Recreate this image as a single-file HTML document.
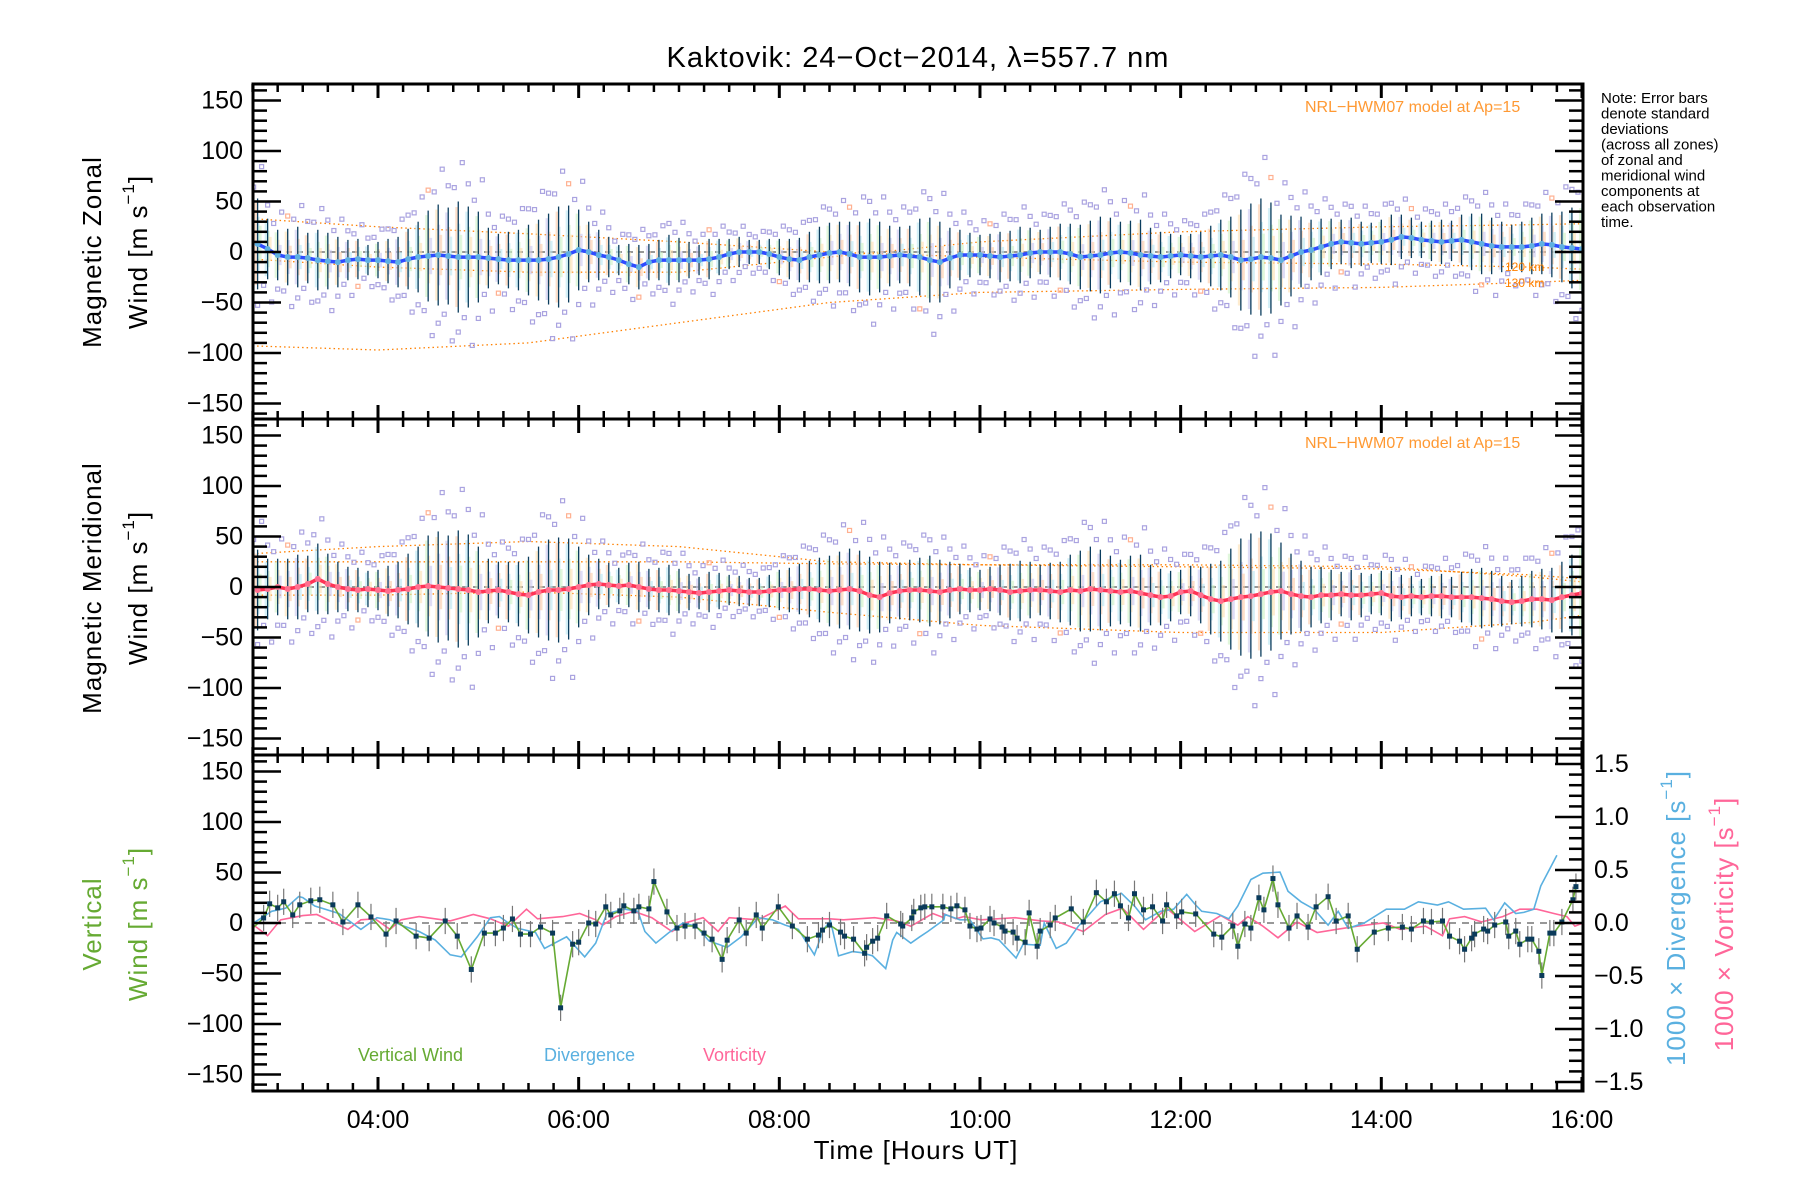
<!DOCTYPE html>
<html><head><meta charset="utf-8"><title>Kaktovik winds</title>
<style>
html,body{margin:0;padding:0;background:#fff;}
svg{display:block;font-family:"Liberation Sans",sans-serif;}
</style></head>
<body>
<svg id="chart" width="1800" height="1200" viewBox="0 0 1800 1200" xmlns="http://www.w3.org/2000/svg">
<defs>
<clipPath id="c1"><rect x="253" y="84" width="1330" height="335"/></clipPath>
<clipPath id="c2"><rect x="253" y="419" width="1330" height="336"/></clipPath>
<clipPath id="c3"><rect x="253" y="755" width="1330" height="336"/></clipPath>
</defs>
<text x="918" y="58" text-anchor="middle" dominant-baseline="central" font-size="29" letter-spacing="1">Kaktovik: 24−Oct−2014, λ=557.7 nm</text>
<g font-size="15" fill="#000">
<text x="1601" y="103">Note: Error bars</text>
<text x="1601" y="118.5">denote standard</text>
<text x="1601" y="134">deviations</text>
<text x="1601" y="149.5">(across all zones)</text>
<text x="1601" y="165">of zonal and</text>
<text x="1601" y="180.5">meridional wind</text>
<text x="1601" y="196">components at</text>
<text x="1601" y="211.5">each observation</text>
<text x="1601" y="227">time.</text>
</g>
<g font-size="26">
<text transform="translate(92,252) rotate(-90)" text-anchor="middle" dominant-baseline="central" letter-spacing="1">Magnetic Zonal</text>
<text transform="translate(138,252) rotate(-90)" text-anchor="middle" dominant-baseline="central" letter-spacing="1">Wind [m s<tspan dy="-10" font-size="17">−1</tspan><tspan dy="10">]</tspan></text>
</g>
<g font-size="26">
<text transform="translate(92,588) rotate(-90)" text-anchor="middle" dominant-baseline="central" letter-spacing="1">Magnetic Meridional</text>
<text transform="translate(138,588) rotate(-90)" text-anchor="middle" dominant-baseline="central" letter-spacing="1">Wind [m s<tspan dy="-10" font-size="17">−1</tspan><tspan dy="10">]</tspan></text>
</g>
<g font-size="26" fill="#66aa33">
<text transform="translate(92,924) rotate(-90)" text-anchor="middle" dominant-baseline="central" letter-spacing="1">Vertical</text>
<text transform="translate(138,924) rotate(-90)" text-anchor="middle" dominant-baseline="central" letter-spacing="1">Wind [m s<tspan dy="-10" font-size="17">−1</tspan><tspan dy="10">]</tspan></text>
</g>
<text transform="translate(1676,918) rotate(-90)" text-anchor="middle" dominant-baseline="central" font-size="26" fill="#5ab0e0" letter-spacing="1">1000 × Divergence [s<tspan dy="-10" font-size="17">−1</tspan><tspan dy="10">]</tspan></text>
<text transform="translate(1724,924) rotate(-90)" text-anchor="middle" dominant-baseline="central" font-size="26" fill="#ff6699" letter-spacing="1">1000 × Vorticity [s<tspan dy="-10" font-size="17">−1</tspan><tspan dy="10">]</tspan></text>
<text x="916" y="1150" text-anchor="middle" dominant-baseline="central" font-size="26" letter-spacing="1">Time [Hours UT]</text>
<text x="1305" y="112" font-size="16" fill="#ff9933">NRL−HWM07 model at Ap=15</text>
<text x="1305" y="448" font-size="16" fill="#ff9933">NRL−HWM07 model at Ap=15</text>
<text x="358" y="1055" font-size="18" fill="#66aa33" dominant-baseline="central">Vertical Wind</text>
<text x="544" y="1055" font-size="18" fill="#5ab0e0" dominant-baseline="central">Divergence</text>
<text x="703" y="1055" font-size="18" fill="#ff6699" dominant-baseline="central">Vorticity</text>
<g id="p1" clip-path="url(#c1)"></g>
<g id="p2" clip-path="url(#c2)"></g>
<g id="p3" clip-path="url(#c3)"></g>
<g id="axes"></g>
</svg>
<script>
// ---------- data ----------
const obsStart = 2.8;      // first observation time (h UT)
const obsStep = 0.1;       // observation cadence (h)
const zonalMean = [8,3,-3,-5,-5,-6,-8,-9,-10,-8,
 -7,-8,-8,-9,-10,-7,-5,-4,-3,-4,
 -5,-5,-5,-6,-7,-8,-8,-8,-8,-7,
 -5,-2,2,0,-3,-5,-8,-12,-15,-10,
 -8,-8,-8,-8,-8,-7,-5,-2,0,0,
 0,-2,-5,-7,-8,-5,-3,-1,0,-2,
 -5,-5,-5,-4,-3,-4,-5,-8,-10,-6,
 -3,-3,-3,-4,-5,-4,-3,-1,0,0,
 0,-2,-5,-4,-3,-1,0,-1,-3,-4,
 -5,-4,-3,-4,-5,-4,-3,-5,-8,-7,
 -5,-6,-8,-4,0,2,5,8,10,9,
 8,9,10,12,15,14,12,11,10,11,
 12,10,8,6,5,5,5,6,8,7,
 5,4,3];
const zonalStd = [45,30,25,28,30,25,30,28,25,20,
 20,15,18,22,25,30,35,45,50,48,
 55,50,45,30,25,28,30,35,40,45,
 50,48,40,30,25,20,15,20,22,18,
 20,25,22,18,15,20,18,15,15,12,
 12,15,18,20,22,25,28,30,30,32,
 35,38,35,30,28,30,38,42,40,30,
 25,22,20,22,25,25,28,25,22,25,
 28,30,32,35,38,35,30,32,35,28,
 25,22,20,22,25,30,35,40,50,55,
 58,55,45,40,35,30,28,25,22,25,
 22,20,22,25,22,20,18,20,22,20,
 25,28,30,28,25,22,25,28,30,32,
 35,40,45];
const meridMean = [-3,-2,0,-2,0,3,8,3,0,-2,
 -3,-2,-3,-4,-3,-2,0,1,0,-1,
 -2,-3,-5,-4,-3,-5,-7,-8,-5,-3,
 -3,-2,0,2,3,2,1,2,0,-2,
 -3,-3,-4,-5,-6,-5,-4,-3,-4,-5,
 -5,-4,-3,-3,-2,-2,-3,-4,-3,-2,
 -4,-8,-10,-6,-4,-3,-3,-4,-5,-3,
 -2,-3,-3,-2,-3,-5,-4,-3,-3,-4,
 -5,-3,-4,-2,-3,-4,-5,-4,-6,-8,
 -10,-9,-5,-4,-8,-12,-14,-12,-10,-9,
 -7,-5,-4,-7,-9,-10,-8,-8,-7,-8,
 -8,-7,-6,-9,-10,-9,-10,-9,-9,-10,
 -10,-10,-11,-12,-14,-15,-14,-12,-12,-13,
 -10,-8,-6];
const meridStd = [40,30,28,30,32,28,35,30,25,22,
 22,18,20,25,28,35,40,50,55,52,
 58,55,45,32,28,30,32,38,45,50,
 52,50,40,30,25,22,18,22,25,20,
 22,25,22,18,16,20,18,15,15,14,
 14,16,20,22,25,28,32,35,38,40,
 40,38,35,30,28,30,32,35,32,28,
 25,22,20,22,25,28,30,28,25,28,
 30,35,40,42,40,35,32,35,38,30,
 28,25,22,25,28,35,40,50,58,62,
 62,58,48,40,35,30,28,25,22,25,
 22,20,22,25,22,20,18,20,22,20,
 25,28,30,28,25,22,25,28,30,32,
 35,40,50];
const modelTimes = [2.75,4,5.5,7,8.5,10,12,14,15.5,16.01];
const zonalModelA = [33,25,18,10,0,-5,-10,-12,-15,-17];
const zonalModelB = [-7,-15,-20,-20,-5,10,20,25,27,28];
const zonalModelC = [-93,-97,-90,-70,-50,-40,-37,-35,-30,-28];
const meridModelA = [33,40,45,40,25,22,22,20,10,5];
const meridModelB = [25,25,25,25,23,22,20,18,12,8];
const meridModelC = [-8,-8,-5,-10,-25,-38,-45,-45,-35,-28];
const vwTimes = [2.73,2.86,2.92,3.0,3.06,3.15,3.22,3.33,3.42,3.55,3.65,3.8,3.93,4.08,4.18,4.38,4.51,4.67,4.79,4.93,5.06,5.17,5.25,5.34,5.42,5.52,5.62,5.74,5.82,5.94,6.0,6.1,6.17,6.27,6.32,6.41,6.45,6.55,6.6,6.7,6.75,6.88,6.98,7.06,7.16,7.25,7.33,7.43,7.48,7.6,7.67,7.77,7.83,7.99,8.13,8.28,8.39,8.43,8.5,8.61,8.65,8.74,8.85,8.87,8.93,8.98,9.07,9.21,9.23,9.32,9.34,9.41,9.45,9.52,
 9.63,9.71,9.77,9.85,9.9,9.97,10.01,10.1,10.14,10.22,10.25,10.33,10.37,10.45,10.49,10.57,10.6,10.7,10.75,10.91,11.03,11.16,11.26,11.34,11.4,11.48,11.54,11.63,11.72,11.82,11.86,11.96,12.01,12.15,12.33,12.41,12.52,12.57,12.64,12.7,12.78,12.83,12.92,12.97,13.08,13.16,13.27,13.35,13.47,13.55,13.67,13.76,13.93,14.07,14.21,14.3,14.42,14.5,14.61,14.68,14.78,14.83,14.9,14.93,15.02,15.06,15.13,15.24,15.27,15.34,15.38,15.46,15.5,15.57,15.6,15.68,15.72,15.8,15.91,15.94];
const vwValues = [-7,5,19,15,21,8,18,22,23,18,1,18,6,-11,2,-13,-15,2,-13,-46,-10,-10,-5,4,-11,-11,-4,-10,-84,-21,-19,0,-1,16,8,12,17,12,16,14,41,11,-5,-3,-3,-10,-16,-36,-17,3,-10,8,-5,16,-3,-16,-12,-7,-2,-9,-13,-16,-30,-24,-18,-15,7,-1,-3,5,11,15,16,16,
 16,14,17,13,-3,-6,-5,4,0,-4,-8,-9,-15,-19,10,-23,-8,-2,5,14,1,30,21,29,17,5,29,13,16,2,18,7,11,9,-11,-14,-3,-23,-1,-5,25,13,44,18,-5,7,-4,16,26,2,7,-26,-9,-5,-4,-6,2,1,2,-13,-18,-26,-15,-11,-6,-8,-2,1,-13,-8,-21,-16,-16,-28,-52,-10,-10,1,23,36];
const vwErr = 13;
const divTimes = [2.76,2.94,3.08,3.21,3.25,3.37,3.61,3.83,3.99,4.12,4.23,4.41,4.57,4.72,4.83,4.99,5.12,5.21,5.3,5.39,5.57,5.66,5.88,6.06,6.17,6.28,6.46,6.59,6.66,6.77,6.9,7.04,7.17,7.3,7.48,7.62,7.79,7.93,8.06,8.19,8.35,8.44,8.51,8.59,8.73,8.82,8.93,9.06,9.13,9.17,9.31,9.4,9.48,9.64,
 9.65,9.8,9.9,10.03,10.11,10.19,10.36,10.43,10.6,10.64,10.76,10.86,10.98,11.07,11.2,11.41,11.54,11.65,11.8,11.93,12.06,12.15,12.21,12.36,12.48,12.57,12.7,12.82,12.99,13.07,13.2,13.33,13.47,13.57,13.67,13.83,14.05,14.23,14.37,14.56,14.67,14.82,15.04,15.12,15.23,15.34,15.42,15.52,15.59,15.75,15.88,16.01];
const divValues = [0,0.11,0.14,0.25,0.24,0.16,0.09,-0.06,0.05,0.03,-0.02,-0.08,-0.16,-0.3,-0.32,-0.13,0.05,0.06,0,-0.05,-0.09,-0.24,-0.13,-0.32,-0.19,0.09,0.13,0.11,-0.08,-0.19,-0.09,0,-0.03,-0.17,-0.23,-0.13,0.05,0.03,-0.02,-0.06,-0.3,-0.06,0.02,-0.31,-0.27,-0.28,-0.31,-0.43,-0.16,-0.09,-0.19,-0.13,-0.08,0.03,
 0.08,0.03,0.03,-0.15,-0.14,-0.16,-0.33,-0.2,-0.21,0,-0.24,-0.19,-0.03,0.06,0.2,0.28,0.16,0.03,0.11,0.13,0.27,0.17,0.11,0.09,0.04,0.16,0.41,0.47,0.48,0.3,0.2,0.13,-0.02,0.11,-0.05,0,0.13,0.13,0.2,0.17,0.2,0.13,0.14,0.03,0.19,0.09,0.1,0.13,0.35,0.64];
const vortTimes = [2.76,2.9,3.03,3.25,3.39,3.7,3.83,3.97,4.12,4.23,4.41,4.72,4.95,5.12,5.3,5.48,5.59,5.84,6.01,6.17,6.24,6.37,6.55,6.73,6.93,7.06,7.24,7.39,7.5,7.79,8.06,8.19,8.5,8.64,8.95,9.17,9.31,9.53,9.64,
 9.63,9.76,9.84,10.01,10.35,10.61,10.78,11.03,11.25,11.42,11.63,11.86,12.14,12.4,12.57,12.67,12.82,12.97,13.16,13.36,13.55,13.76,14.02,14.19,14.44,14.61,14.68,14.83,15.0,15.21,15.38,15.55,15.72,15.85,15.93,16.01];
const vortValues = [-0.02,-0.12,0.03,0.07,0.08,-0.06,0.03,0.04,-0.06,0.03,0.06,0.02,0.08,0.04,-0.03,0.13,0.04,0.06,0.09,0.03,-0.02,0.06,0.11,0.05,-0.08,0,0.05,-0.08,0.05,0.03,0.16,0.04,0.04,0.03,0.05,0.02,-0.03,0.09,0.05,
 0.09,0.04,0.06,0.03,0.05,0.02,0.01,-0.08,0.08,0.14,-0.06,0.14,-0.08,0.07,-0.02,0.06,-0.03,-0.14,0.01,-0.09,-0.06,-0.03,0,-0.06,-0.03,-0.12,0.04,0.06,0.01,0.06,0.13,0.13,0.09,0.06,-0.03,0];
const hourTickLabels = ["04:00","06:00","08:00","10:00","12:00","14:00","16:00"];
const hourTickValues = [4,6,8,10,12,14,16];
const windTickValues = [150,100,50,0,-50,-100,-150];
const ratioTickValues = [1.5,1.0,0.5,0.0,-0.5,-1.0,-1.5];

// ---------- axes functions ----------
const NS = "http://www.w3.org/2000/svg";
const X0 = 253, X1 = 1583;
const panelTop = [84, 419, 755];
const panelBot = [419, 755, 1091];
const panelZero = [252, 587, 923];
function xs(t){ return 378 + (t - 4) * 100.33; }
function ys(p, v){ return panelZero[p] - v * 1.01; }
function yr(v){ return 923 - v * 106; }
function mk(tag, parent, attrs){
  const e = document.createElementNS(NS, tag);
  for (const k in attrs) e.setAttribute(k, attrs[k]);
  parent.appendChild(e);
  return e;
}
function fmt(v){ return (v < 0 ? "−" : "") + Math.abs(v); }
const obsTimes = zonalMean.map((_, i) => obsStart + i * obsStep);

// ---------- wind panels ----------
const lightCols = ["#fcc9a6", "#b9e6f2", "#cdf2c4", "#fde0b0", "#c9c6f0"];
function windPanel(p, g, mean, std, models, lineCol, dotCol, nameBase){
  const z = mk("line", g, {x1:X0, x2:X1, y1:ys(p,0), y2:ys(p,0), stroke:"#777", "stroke-width":1.5, "stroke-dasharray":"6,5"});
  
  
  models.forEach((m, k) => {
    const pts = modelTimes.map((t, i) => xs(t).toFixed(1) + "," + ys(p, m[i]).toFixed(1)).join(" ");
    const pl = mk("polyline", g, {points:pts, fill:"none", stroke:"#ff8000", "stroke-width":1.3, "stroke-dasharray":"1.5,3"});
    
    
  });
  mean.forEach((v, i) => {
    const x = xs(obsTimes[i]);
    for (let k = 0; k < 3; k++){
      const f = [0.9, 0.6, 0.4][k];
      const r = mk("rect", g, {x:x - 3 + k * 2, width:3, y:ys(p, v + std[i] * f), height:std[i] * f * 2 * 1.01, fill:lightCols[(i + k) % 5], opacity:0.6});
      
      
    }
  });
  mean.forEach((v, i) => {
    const mults = (i % 2 === 0) ? [1.25, -1.35, 1.7] : [-1.2, 1.45, -1.75];
    mults.forEach((m, k) => {
      const col = (k === 1 && i % 7 === 3) ? "#ffb090" : "#aaa3e0";
      const s = mk("rect", g, {x:xs(obsTimes[i]) - 2 + (k - 1) * 4, y:ys(p, v + std[i] * m) - 2, width:4, height:4, fill:"none", stroke:col, "stroke-width":1.2});
      
      
    });
  });
  mean.forEach((v, i) => {
    const x = xs(obsTimes[i]);
    const e = mk("line", g, {x1:x, x2:x, y1:ys(p, v + std[i]), y2:ys(p, v - std[i]), stroke:"#0b3d5e", "stroke-width":1.3});
    
    
  });
  const pts = mean.map((v, i) => xs(obsTimes[i]).toFixed(1) + "," + ys(p, v).toFixed(1)).join(" ");
  const ml = mk("polyline", g, {points:pts, fill:"none", stroke:lineCol, "stroke-width":3.5});
  
  
  mean.forEach((v, i) => {
    const c = mk("circle", g, {cx:xs(obsTimes[i]), cy:ys(p, v), r:3, fill:dotCol});
    
    
  });
}
windPanel(0, document.getElementById("p1"), zonalMean, zonalStd, [zonalModelA, zonalModelB, zonalModelC], "#2f4bff", "#5fb0e0", "zonal");
windPanel(1, document.getElementById("p2"), meridMean, meridStd, [meridModelA, meridModelB, meridModelC], "#ff3355", "#ff6f8f", "meridional");
const p1 = document.getElementById("p1");
const l120 = mk("text", p1, {x:1505, y:271, "font-size":12, fill:"#ff8000"});
l120.textContent = "120 km";


const l130 = mk("text", p1, {x:1505, y:287, "font-size":12, fill:"#ff8000"});
l130.textContent = "130 km";



// ---------- vertical panel ----------
const g3 = document.getElementById("p3");
const z3 = mk("line", g3, {x1:X0, x2:X1, y1:923, y2:923, stroke:"#777", "stroke-width":1.5, "stroke-dasharray":"7,6"});


const vortLine = mk("polyline", g3, {points:vortTimes.map((t, i) => xs(t).toFixed(1) + "," + yr(vortValues[i]).toFixed(1)).join(" "), fill:"none", stroke:"#ff6699", "stroke-width":1.6});


const divLine = mk("polyline", g3, {points:divTimes.map((t, i) => xs(t).toFixed(1) + "," + yr(divValues[i]).toFixed(1)).join(" "), fill:"none", stroke:"#5ab0e0", "stroke-width":1.6});


vwTimes.forEach((t, i) => {
  const e = mk("line", g3, {x1:xs(t), x2:xs(t), y1:ys(2, vwValues[i] + vwErr), y2:ys(2, vwValues[i] - vwErr), stroke:"#777", "stroke-width":1.2});
  
  
});
const vwLine = mk("polyline", g3, {points:vwTimes.map((t, i) => xs(t).toFixed(1) + "," + ys(2, vwValues[i]).toFixed(1)).join(" "), fill:"none", stroke:"#66aa33", "stroke-width":1.6});


vwTimes.forEach((t, i) => {
  const s = mk("rect", g3, {x:xs(t) - 2.5, y:ys(2, vwValues[i]) - 2.5, width:5, height:5, fill:"#0a3a5a"});
  
  
});

// ---------- axes ----------
const ax = document.getElementById("axes");
for (let p = 0; p < 3; p++){
  const fr = mk("rect", ax, {x:X0, y:panelTop[p], width:X1 - X0, height:panelBot[p] - panelTop[p], fill:"none", stroke:"#000", "stroke-width":3});
  
  
  for (let q = 11; q <= 64; q++){
    const t = q * 0.25, x = xs(t);
    const major = (q % 8 === 0);
    const len = major ? 14 : 8;
    const tk1 = mk("line", ax, {x1:x, x2:x, y1:panelTop[p], y2:panelTop[p] + len, stroke:"#000", "stroke-width":major ? 3 : 2.5});
    
    
    const tk2 = mk("line", ax, {x1:x, x2:x, y1:panelBot[p], y2:panelBot[p] - len, stroke:"#000", "stroke-width":major ? 3 : 2.5});
    
    
  }
  for (let v = -160; v <= 160; v += 10){
    const y = ys(p, v);
    if (y < panelTop[p] + 1 || y > panelBot[p] - 1) continue;
    const major = (v % 50 === 0);
    const len = major ? 28 : 14;
    const tl = mk("line", ax, {x1:X0, x2:X0 + len, y1:y, y2:y, stroke:"#000", "stroke-width":2.5});
    
    
    if (p < 2){
      const tr = mk("line", ax, {x1:X1, x2:X1 - len, y1:y, y2:y, stroke:"#000", "stroke-width":2.5});
      
      
    }
  }
  windTickValues.forEach(v => {
    const lb = mk("text", ax, {x:243, y:ys(p, v), "text-anchor":"end", "dominant-baseline":"central", "font-size":25});
    lb.textContent = fmt(v);
    
    
  });
}
for (let k = -16; k <= 16; k++){
  const v = k / 10, y = yr(v);
  if (y < 756 || y > 1090) continue;
  const major = (k % 5 === 0);
  const len = major ? 28 : 14;
  const tr = mk("line", ax, {x1:X1, x2:X1 - len, y1:y, y2:y, stroke:"#000", "stroke-width":2.5});
  
  
}
ratioTickValues.forEach(v => {
  const lb = mk("text", ax, {x:1594, y:yr(v), "dominant-baseline":"central", "font-size":25});
  lb.textContent = (v < 0 ? "−" : "") + Math.abs(v).toFixed(1);
  
  
});
hourTickValues.forEach((t, i) => {
  const lb = mk("text", ax, {x:xs(t), y:1120, "text-anchor":"middle", "dominant-baseline":"central", "font-size":25});
  lb.textContent = hourTickLabels[i];
  
  
});
</script>
</body></html>
